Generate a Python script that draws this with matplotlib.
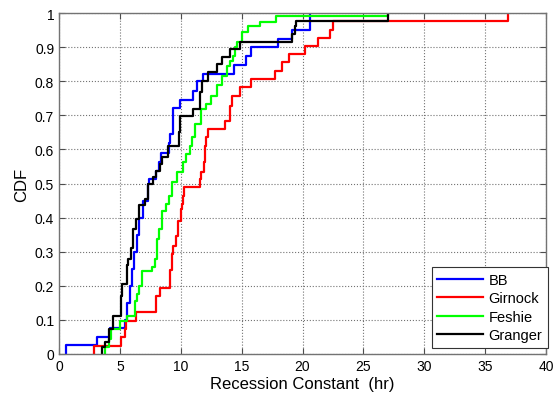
import matplotlib
matplotlib.use("Agg")
import matplotlib.pyplot as plt

plt.rcParams['font.family'] = ['Liberation Sans', 'DejaVu Sans']

# step positions (x) and CDF level after each step (y)
bb_x = [0.57, 3.1, 4.2, 5.4, 5.6, 5.8, 6.0, 6.2, 6.4, 6.55, 6.9, 7.3, 7.4, 8.0, 8.2, 8.4,
        9.05, 9.1, 9.4, 9.95, 11.0, 11.3, 11.8, 14.4, 15.4, 15.8, 18.0, 19.1, 20.6]
bb_y = [0.025, 0.05, 0.075, 0.1, 0.15, 0.2, 0.25, 0.3, 0.35, 0.4, 0.45, 0.5, 0.513, 0.537, 0.562, 0.59,
        0.62, 0.645, 0.72, 0.745, 0.77, 0.8, 0.82, 0.848, 0.873, 0.9, 0.925, 0.95, 1.0]

gi_x = [2.9, 5.1, 5.4, 5.5, 6.3, 8.0, 8.3, 9.1, 9.15, 9.25, 9.4, 9.6, 9.8, 10.0, 10.1, 10.2, 10.3,
        11.58, 11.7, 11.9, 12.0, 12.1, 12.2, 13.6, 14.04, 14.18, 14.86, 15.77, 17.74, 18.29, 18.9,
        20.2, 21.3, 22.26, 22.5, 36.9]
gi_y = [0.022, 0.049, 0.073, 0.098, 0.122, 0.171, 0.195, 0.22, 0.245, 0.293, 0.318, 0.347, 0.391, 0.425, 0.44, 0.464, 0.489,
        0.513, 0.533, 0.562, 0.61, 0.635, 0.66, 0.684, 0.728, 0.757, 0.782, 0.806, 0.83, 0.855, 0.88,
        0.902, 0.926, 0.951, 0.977, 1.0]

fe_x = [3.78, 4.1, 4.3, 5.0, 5.56, 6.24, 6.4, 6.6, 6.79, 7.6, 7.88, 8.02, 8.2, 8.43, 8.79, 9.06, 9.25, 9.67,
        10.2, 10.43, 10.76, 10.9, 11.17, 11.7, 12.1, 12.5, 12.95, 13.36, 13.77, 14.04, 14.3, 14.45, 14.6,
        15.0, 15.5, 16.5, 17.8, 27.05]
fe_y = [0.02, 0.044, 0.073, 0.098, 0.112, 0.156, 0.176, 0.2, 0.244, 0.255, 0.279, 0.337, 0.367, 0.42, 0.44, 0.464, 0.504, 0.533,
        0.562, 0.587, 0.61, 0.635, 0.674, 0.718, 0.733, 0.757, 0.79, 0.816, 0.845, 0.86, 0.875, 0.9, 0.914,
        0.943, 0.963, 0.975, 0.99, 1.0]

gr_x = [3.5, 3.8, 4.1, 4.45, 5.1, 5.2, 5.55, 5.7, 5.95, 6.1, 6.3, 6.6, 7.05, 7.3, 7.75, 8.0, 8.3, 8.5,
        8.98, 9.85, 9.94, 11.03, 11.6, 11.75, 12.27, 12.95, 13.36, 14.04, 14.87, 19.1, 19.4, 19.5, 27.05]
gr_y = [0.02, 0.036, 0.073, 0.11, 0.17, 0.205, 0.26, 0.28, 0.31, 0.367, 0.396, 0.437, 0.455, 0.5, 0.52, 0.537, 0.557, 0.577,
        0.611, 0.65, 0.699, 0.718, 0.767, 0.80, 0.826, 0.85, 0.87, 0.894, 0.914, 0.938, 0.963, 0.977, 1.0]

series = [("BB", bb_x, bb_y, (0, 0, 1)),
          ("Girnock", gi_x, gi_y, (1, 0, 0)),
          ("Feshie", fe_x, fe_y, (0, 1, 0)),
          ("Granger", gr_x, gr_y, (0, 0, 0))]

fig = plt.figure(figsize=(5.56, 4.02), dpi=100)
ax = fig.add_axes([59 / 556, 47 / 402, 487 / 556, 341 / 402])

for name, xs, ys, col in series:
    ax.step([xs[0]] + xs, [0] + ys, where='post', color=col, lw=1.6, label=name)

ax.set_xlim(0, 40)
ax.set_ylim(0, 1)
ax.set_xticks(range(0, 41, 5))
ax.set_yticks([i / 10 for i in range(11)])
ax.set_yticklabels(['0', '0.1', '0.2', '0.3', '0.4', '0.5', '0.6', '0.7', '0.8', '0.9', '1'])
ax.grid(True, linestyle=':', color='0.45', lw=0.8)
ax.tick_params(direction='in', length=4, top=True, right=True, labelsize=10, color='0.3')
for s in ax.spines.values():
    s.set_color('0.45')
    s.set_linewidth(1.0)

ax.set_xlabel("Recession Constant  (hr)", fontsize=12, labelpad=2)
ax.set_ylabel("CDF", fontsize=12, labelpad=4)

leg = ax.legend(loc='lower right', bbox_to_anchor=(548 / 556, 53 / 402), bbox_transform=fig.transFigure,
                borderaxespad=0, fancybox=False, edgecolor='0.2', framealpha=1, fontsize=10.5,
                handlelength=3.1, handletextpad=0.4, labelspacing=0.3, borderpad=0.4)
leg.get_frame().set_linewidth(0.8)

fig.savefig("out.png", dpi=100)
